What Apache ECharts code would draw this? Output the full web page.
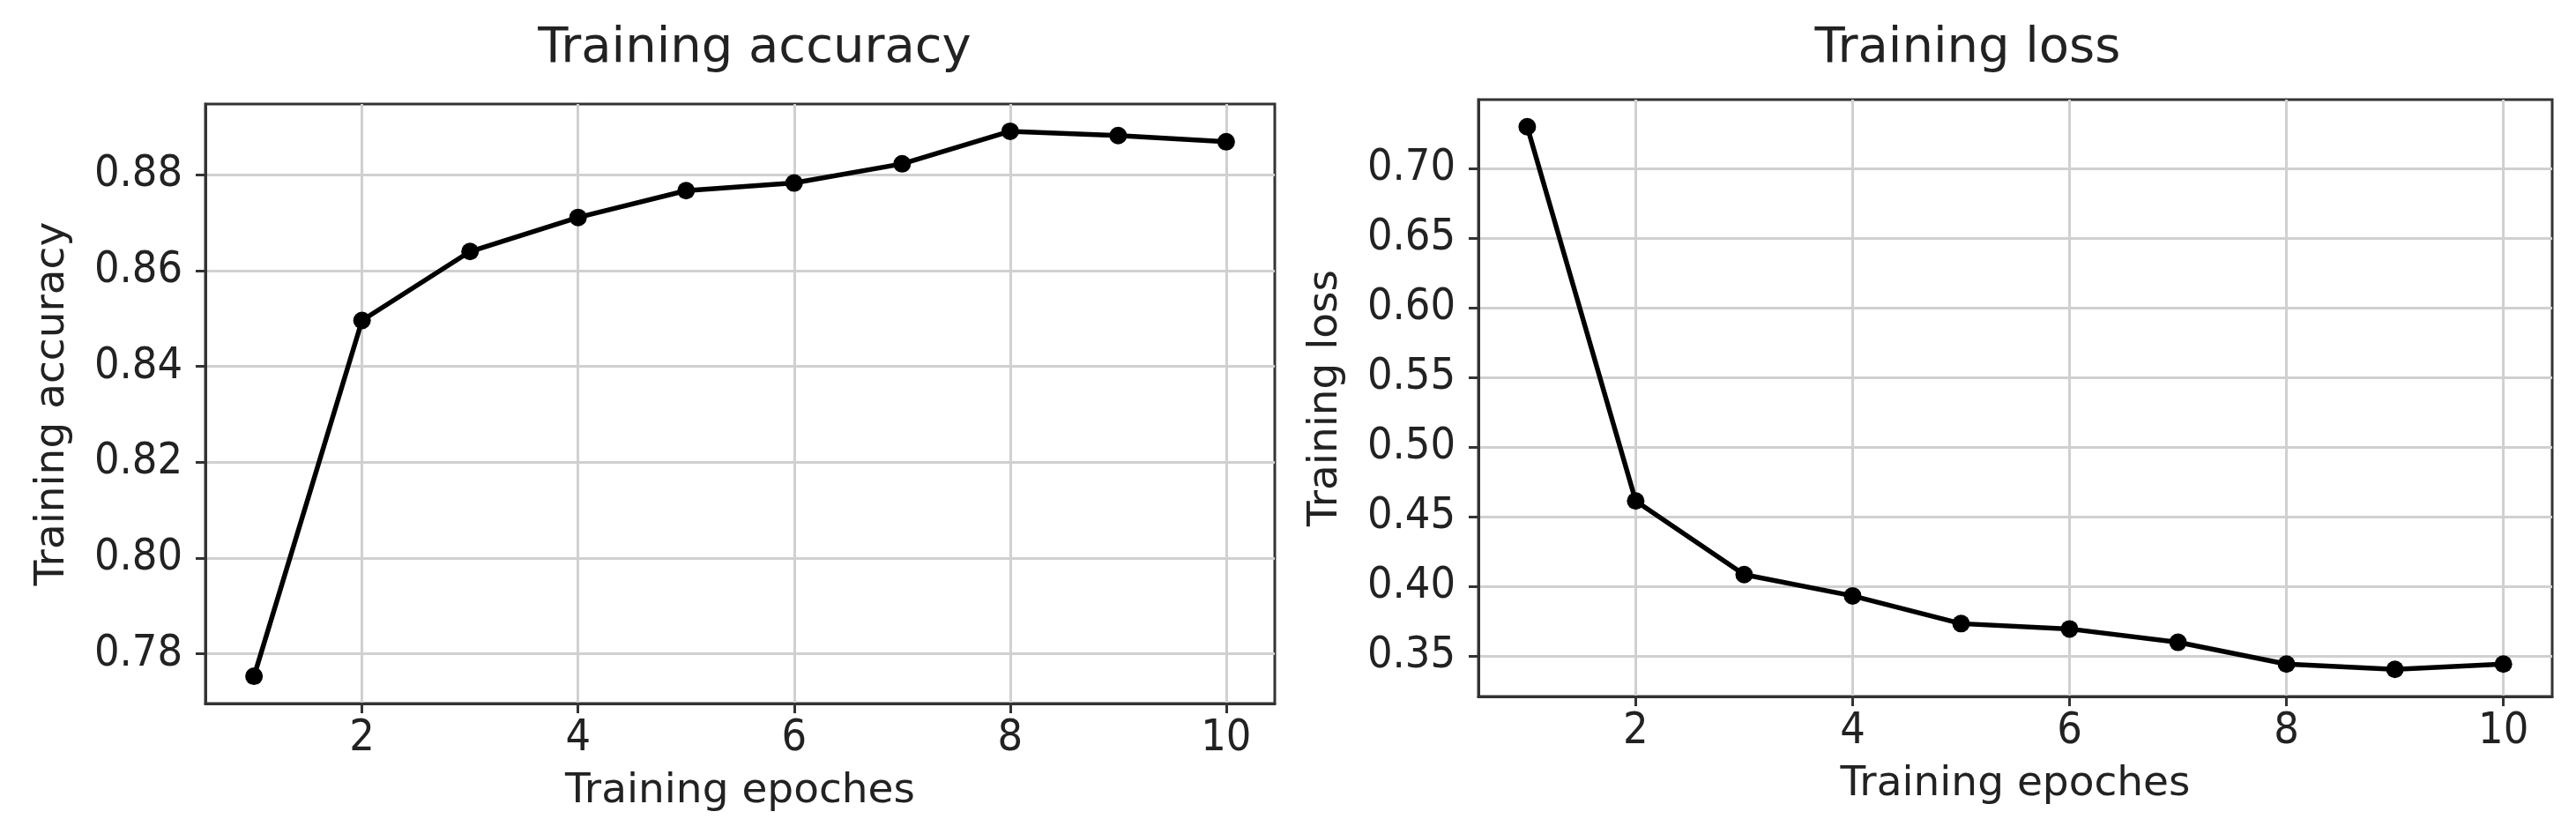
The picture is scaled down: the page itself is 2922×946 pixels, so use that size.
<!DOCTYPE html>
<html>
<head>
<meta charset="utf-8">
<script src="https://cdn.jsdelivr.net/npm/echarts@6/dist/echarts.min.js"></script>
<style>
  html, body { margin: 0; padding: 0; background: #fff; }
  #main { width: 2922px; height: 946px; }
</style>
</head>
<body>
<div id="main"></div>
<script>
// values
const epochs = [1, 2, 3, 4, 5, 6, 7, 8, 9, 10];
const accuracy = [0.7753, 0.8496, 0.8640, 0.8711, 0.8767, 0.8783, 0.8823, 0.8891, 0.8882, 0.8869];
const loss = [0.7298, 0.4613, 0.4085, 0.3932, 0.3733, 0.3695, 0.3599, 0.3443, 0.3405, 0.3443];

const xTicks = [2, 4, 6, 8, 10];
const accTicks = [0.78, 0.80, 0.82, 0.84, 0.86, 0.88];
const lossTicks = [0.35, 0.40, 0.45, 0.50, 0.55, 0.60, 0.65, 0.70];

const titles = ['Training accuracy', 'Training loss'];
const yNames = ['Training accuracy', 'Training loss'];
const xName = 'Training epoches';

const FONT = 'DejaVu Sans';
const TICK_FONT = '"DejaVu Sans Condensed", "DejaVu Sans"';
const TEXT = '#222';

// matplotlib style 5% margins around the data
function padded(arr) {
  let lo = Math.min(...arr), hi = Math.max(...arr)
  let m = (hi - lo) * 0.05
  return [lo - m, hi + m]
}

const xLim = padded(epochs);
const accLim = padded(accuracy);
const lossLim = padded(loss);

function xAxisOf(gridIndex) {
  return {
    type: 'value',
    gridIndex: gridIndex,
    min: xLim[0],
    max: xLim[1],
    name: xName,
    nameLocation: 'middle',
    nameGap: 76,
    nameTextStyle: { fontSize: 47, color: TEXT, fontFamily: FONT },
    axisLine: { show: true, lineStyle: { color: '#333', width: 3 } },
    axisTick: { show: true, customValues: xTicks, length: 11, lineStyle: { color: '#333', width: 3 } },
    axisLabel: { customValues: xTicks, fontSize: 50, color: TEXT, fontFamily: TICK_FONT, margin: 15 },
    splitLine: { show: true, lineStyle: { color: '#d0d0d0', width: 3 } }
  }
}

function yAxisOf(gridIndex, lim, ticks, name) {
  return {
    type: 'value',
    gridIndex: gridIndex,
    min: lim[0],
    max: lim[1],
    name: name,
    nameLocation: 'middle',
    nameGap: 150,
    nameTextStyle: { fontSize: 47, color: TEXT, fontFamily: FONT },
    axisLine: { show: true, lineStyle: { color: '#333', width: 3 } },
    axisTick: { show: true, customValues: ticks, length: 11, lineStyle: { color: '#333', width: 3 } },
    axisLabel: {
      customValues: ticks, fontSize: 50, color: TEXT, fontFamily: TICK_FONT, margin: 26,
      formatter: function (v) { return v.toFixed(2) }
    },
    splitLine: { show: true, lineStyle: { color: '#d0d0d0', width: 3 } }
  }
}

function seriesOf(idx, values) {
  return {
    type: 'line',
    xAxisIndex: idx,
    yAxisIndex: idx,
    data: epochs.map((e, i) => [e, values[i]]),
    symbol: 'circle',
    symbolSize: 20,
    lineStyle: { color: '#000', width: 5.5 },
    itemStyle: { color: '#000' },
    z: 5
  }
}

let myChart = echarts.init(document.getElementById('main'));
myChart.setOption({
  animation: false,
  backgroundColor: '#fff',
  title: [
    { text: titles[0], left: 856, top: 27, textAlign: 'center', padding: 0,
      textStyle: { fontSize: 56, fontWeight: 'normal', color: TEXT, fontFamily: FONT } },
    { text: titles[1], left: 2232, top: 27, textAlign: 'center', padding: 0,
      textStyle: { fontSize: 56, fontWeight: 'normal', color: TEXT, fontFamily: FONT } }
  ],
  grid: [
    { left: 233, top: 118, width: 1213, height: 680, show: true, borderColor: '#333', borderWidth: 3 },
    { left: 1677, top: 113, width: 1218, height: 677, show: true, borderColor: '#333', borderWidth: 3 }
  ],
  xAxis: [xAxisOf(0), xAxisOf(1)],
  yAxis: [
    yAxisOf(0, accLim, accTicks, yNames[0]),
    yAxisOf(1, lossLim, lossTicks, yNames[1])
  ],
  series: [seriesOf(0, accuracy), seriesOf(1, loss)]
});
</script>
</body>
</html>
